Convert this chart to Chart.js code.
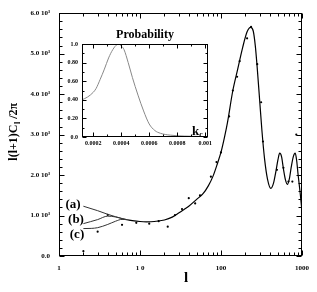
<!DOCTYPE html>
<html><head><meta charset="utf-8">
<script src="https://cdn.jsdelivr.net/npm/chart.js@4/dist/chart.umd.min.js"></script>
<style>
html,body{margin:0;padding:0;background:#fff;}
#wrap{position:relative;width:317px;height:292px;}
#main{position:absolute;left:0;top:0;}
#inset{position:absolute;left:40px;top:26px;}
</style></head>
<body>
<div id="wrap">
<canvas id="main" width="317" height="292"></canvas>
<canvas id="inset" width="176" height="124"></canvas>
</div>
<script>
// ---- data ----
const mainL = [7,8,10,12,15,20,25,30,35,40,50,60,70,80,90,100,110,120,140,160,185,210,232,250,265,280,300,320,345,375,413,445,475,505,530,560,590,625,660,700,737,780,825,860,895,950,1000];
const mainV = [895,875,852,845,852,890,960,1060,1150,1230,1400,1540,1740,1980,2275,2565,2920,3290,4090,4600,5150,5540,5650,5560,5200,4650,3850,3100,2400,1900,1670,1800,2080,2380,2540,2450,2150,1880,1770,1920,2200,2450,2540,2350,2010,1550,1100];
const aL = [2,3,4,5,6,7];
const aV = [1230,1120,1030,970,925,895];
const bL = [2,3,4,5,6,7];
const bV = [800,900,985,965,925,895];
const cL = [2,2.5,3,4,5,6,7];
const cV = [678,682,700,780,860,905,895];
const ptL = [2,3,4,6,9,13,17,22,27,33,40,48,55,75,88,100,126,140,158,170,210,235,280,313,330,490,590,680,760,850];
const ptV = [120,600,1015,770,820,800,860,725,1010,1160,1430,1300,1500,1960,2320,2560,3450,4090,4430,4815,5380,5660,4740,3800,2830,2130,2180,1840,1840,3000];
const xMajor = [1,10,100,1000];
const xMajorLabels = ['1','1 0','100','1000'];
const xMinor = [2,3,4,5,6,7,8,9,20,30,40,50,60,70,80,90,200,300,400,500,600,700,800,900];
const yMajor = [0,1000,2000,3000,4000,5000,6000];
const yMajorLabels = ['0.0','1.0 10³','2.0 10³','3.0 10³','4.0 10³','5.0 10³','6.0 10³'];

const probK = [0.00012,0.00016,0.0002,0.00022,0.00025,0.00028,0.00031,0.00034,0.00037,0.00038,0.0004,0.00042,0.00045,0.00048,0.00052,0.00056,0.0006,0.00064,0.00068,0.00075,0.00085,0.00095,0.00102];
const probV = [0.40,0.43,0.48,0.52,0.62,0.73,0.85,0.94,0.995,1.0,0.98,0.94,0.80,0.64,0.45,0.28,0.14,0.07,0.04,0.02,0.01,0.006,0.005];
const kMajor = [0.0002,0.0004,0.0006,0.0008,0.001];
const kMajorLabels = ['0.0002','0.0004','0.0006','0.0008','0.001'];
const kMinor = [0.0003,0.0005,0.0007,0.0009];
const pMajor = [0,0.2,0.4,0.6,0.8,1.0];
const pMajorLabels = ['0.0','0.20','0.40','0.60','0.80','1.0'];
const pMinor = [0.1,0.3,0.5,0.7,0.9];

const SERIF = "'Liberation Serif','DejaVu Serif',serif";
const pts = (xs, ys) => xs.map((x,i)=>({x:x,y:ys[i]}));

function frameTicks(opts){
  return {
    id:'frameTicks',
    afterDraw(chart){
      const ctx = chart.ctx, a = chart.chartArea, sx = chart.scales.x, sy = chart.scales.y;
      ctx.save();
      ctx.strokeStyle = '#000'; ctx.lineWidth = 1;
      const L = Math.round(a.left)+0.5, T = Math.round(a.top)+0.5, R = Math.round(a.right)-0.5, B = Math.round(a.bottom)-0.5;
      ctx.strokeRect(L, T, R-L, B-T);
      ctx.beginPath();
      const xt = (v, len) => { const p = Math.round(sx.getPixelForValue(v))+0.5; ctx.moveTo(p,B); ctx.lineTo(p,B-len); ctx.moveTo(p,T); ctx.lineTo(p,T+len); };
      const yt = (v, len) => { const p = Math.round(sy.getPixelForValue(v))+0.5; ctx.moveTo(L,p); ctx.lineTo(L+len,p); ctx.moveTo(R,p); ctx.lineTo(R-len,p); };
      opts.xMajor.forEach(v=>xt(v,opts.maj));
      opts.xMinor.forEach(v=>xt(v,opts.min));
      opts.yMajor.forEach(v=>yt(v,opts.maj));
      opts.yMinor.forEach(v=>yt(v,opts.min));
      ctx.stroke();
      ctx.restore();
      if (opts.extra) opts.extra(chart);
    }
  };
}

const yMinor = [];
for (let v=200; v<6000; v+=200) if (v%1000) yMinor.push(v);

function mainText(chart){
  const ctx = chart.ctx;
  ctx.save();
  ctx.fillStyle = '#000';
  ctx.textBaseline = 'middle'; ctx.textAlign = 'center';
  ctx.font = 'bold 15px ' + SERIF;
  ctx.fillText('l', 186, 278);
  ctx.font = 'bold 13px ' + SERIF;
  ctx.fillText('(a)', 73, 205);
  ctx.fillText('(b)', 76, 220);
  ctx.fillText('(c)', 77, 235);
  // y title
  ctx.translate(13, 132);
  ctx.rotate(-Math.PI/2);
  ctx.textAlign = 'left'; ctx.textBaseline = 'alphabetic';
  const f1 = 'bold 12px ' + SERIF, f2 = 'bold 8px ' + SERIF;
  ctx.font = f1; const w1 = ctx.measureText('l(l+1)C').width; const w3 = ctx.measureText(' /2π').width;
  ctx.font = f2; const w2 = ctx.measureText('l').width;
  let x0 = -(w1+w2+w3)/2;
  ctx.font = f1; ctx.fillText('l(l+1)C', x0, 4);
  ctx.font = f2; ctx.fillText('l', x0+w1+0.5, 7);
  ctx.font = f1; ctx.fillText(' /2π', x0+w1+w2+0.5, 4);
  ctx.restore();
}

new Chart(document.getElementById('main'), {
  type:'line',
  data:{ datasets:[
    {data:pts(mainL,mainV), borderColor:'#000', borderWidth:1.2, pointRadius:0, cubicInterpolationMode:'monotone', fill:false},
    {data:pts(aL,aV), borderColor:'#333', borderWidth:1, pointRadius:0, cubicInterpolationMode:'monotone', fill:false},
    {data:pts(bL,bV), borderColor:'#333', borderWidth:1, pointRadius:0, cubicInterpolationMode:'monotone', fill:false},
    {data:pts(cL,cV), borderColor:'#333', borderWidth:1, pointRadius:0, cubicInterpolationMode:'monotone', fill:false},
    {type:'scatter', data:pts(ptL,ptV), showLine:false, pointRadius:1.1, pointBackgroundColor:'#000', pointBorderWidth:0, borderColor:'#000'}
  ]},
  options:{
    responsive:false, animation:false, devicePixelRatio:1,
    layout:{padding:{left:0, top:8, right:9, bottom:0}},
    plugins:{legend:{display:false}, tooltip:{enabled:false}},
    scales:{
      x:{type:'logarithmic', min:1, max:1000,
        grid:{display:false, drawTicks:false}, border:{display:false},
        afterBuildTicks:s=>{ s.ticks = xMajor.map(v=>({value:v})); },
        afterFit:s=>{ s.height = 36; },
        ticks:{autoSkip:false, maxRotation:0, padding:8, color:'#000',
          font:{family:SERIF, size:7, weight:'bold'},
          callback:(v)=>{ const i = xMajor.indexOf(v); return i>=0 ? xMajorLabels[i] : ''; }}
      },
      y:{type:'linear', min:0, max:6000,
        grid:{display:false, drawTicks:false}, border:{display:false},
        afterBuildTicks:s=>{ s.ticks = yMajor.map(v=>({value:v})); },
        afterFit:s=>{ s.width = 59; },
        ticks:{autoSkip:false, padding:9, color:'#000',
          font:{family:SERIF, size:7, weight:'bold'},
          callback:(v)=>{ const i = yMajor.indexOf(v); return i>=0 ? yMajorLabels[i] : ''; }}
      }
    }
  },
  plugins:[frameTicks({xMajor:xMajor, xMinor:xMinor, yMajor:yMajor, yMinor:yMinor, maj:5, min:3, extra:mainText})]
});

function insetText(chart){
  const ctx = chart.ctx;
  ctx.save();
  ctx.fillStyle = '#000';
  ctx.textAlign = 'center'; ctx.textBaseline = 'middle';
  ctx.font = 'bold 12px ' + SERIF;
  ctx.fillText('Probability', 105, 9);
  ctx.textAlign = 'left'; ctx.textBaseline = 'alphabetic';
  ctx.font = 'bold 13px ' + SERIF;
  ctx.fillText('k', 152, 109);
  const w = ctx.measureText('k').width;
  ctx.font = 'bold 8px ' + SERIF;
  ctx.fillText('c', 152+w, 111);
  ctx.restore();
}

new Chart(document.getElementById('inset'), {
  type:'line',
  data:{ datasets:[
    {data:pts(probK,probV), borderColor:'#888', borderWidth:1, pointRadius:0, cubicInterpolationMode:'monotone', fill:false}
  ]},
  options:{
    responsive:false, animation:false, devicePixelRatio:1,
    layout:{padding:{left:0, top:18, right:8, bottom:0}},
    plugins:{legend:{display:false}, tooltip:{enabled:false}},
    scales:{
      x:{type:'linear', min:0.00012, max:0.00102,
        grid:{display:false, drawTicks:false}, border:{display:false},
        afterBuildTicks:s=>{ s.ticks = kMajor.map(v=>({value:v})); },
        afterFit:s=>{ s.height = 13; },
        ticks:{autoSkip:false, maxRotation:0, padding:3, color:'#000',
          font:{family:SERIF, size:6, weight:'bold'},
          callback:(v)=>{ const i = kMajor.findIndex(k=>Math.abs(k-v)<1e-9); return i>=0 ? kMajorLabels[i] : ''; }}
      },
      y:{type:'linear', min:0, max:1,
        grid:{display:false, drawTicks:false}, border:{display:false},
        afterBuildTicks:s=>{ s.ticks = pMajor.map(v=>({value:v})); },
        afterFit:s=>{ s.width = 42; },
        ticks:{autoSkip:false, padding:4, color:'#000',
          font:{family:SERIF, size:6, weight:'bold'},
          callback:(v)=>{ const i = pMajor.findIndex(k=>Math.abs(k-v)<1e-9); return i>=0 ? pMajorLabels[i] : ''; }}
      }
    }
  },
  plugins:[frameTicks({xMajor:kMajor, xMinor:kMinor, yMajor:pMajor, yMinor:pMinor, maj:4, min:2, extra:insetText})]
});
</script>
</body></html>
